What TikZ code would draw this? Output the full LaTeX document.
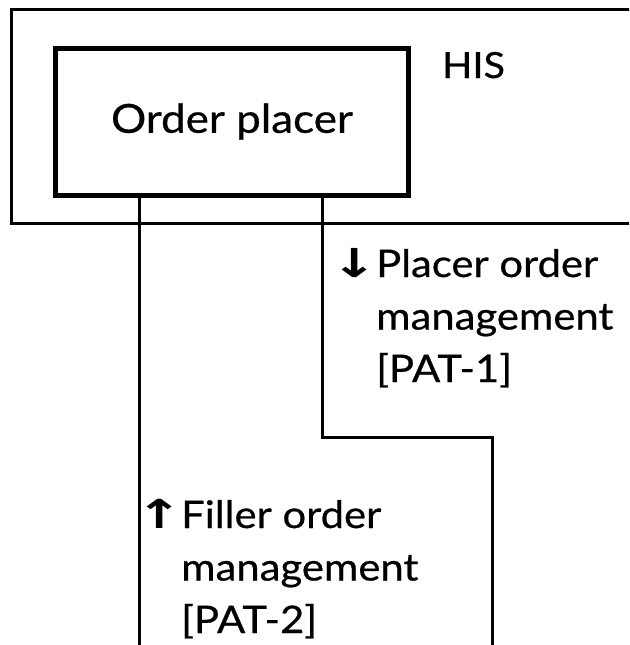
\documentclass[tikz,border=0pt]{standalone}
\usepackage{graphicx}
\usepackage{fontspec}
\setmainfont{Lato}[FakeStretch=1.1,FakeBold=0.6]
\newfontfamily\arrowfont{DejaVu Sans}
% direction arrow hung to the left of a message label
\newcommand\msgarrow[1]{\llap{{\arrowfont\bfseries\scalebox{1.45}[1.05]{#1}}\hspace{-1pt}}}
\tikzset{
  sysbox/.style={draw, line width=3pt, minimum width=649pt, minimum height=214pt, inner sep=0pt},
  appbox/.style={draw, line width=5pt, minimum width=353pt, minimum height=147pt, inner sep=0pt,
    font=\fontsize{40}{48}\selectfont},
  link/.style={line width=3pt},
  syslabel/.style={font=\fontsize{36}{42}\selectfont, inner sep=0pt, anchor=base west},
  msglabel/.style={font=\fontsize{38}{52.5}\selectfont, align=left, inner sep=0pt, anchor=base west},
}
\begin{document}
\begin{tikzpicture}[x=1pt,y=-1pt]
  \useasboundingbox (0,0) rectangle (629,645);
  \clip (0,0) rectangle (629,645);
  \fill[white] (0,0) rectangle (629,645);

  % hospital information system and its order placer
  \node[sysbox] (his) at (335.5,116) {};
  \node[syslabel] (histext) at (442,78) {HIS};
  \node[appbox] (placer) at (232,121.5) {Order placer};

  % message paths leaving the order placer
  \coordinate (fillerend) at (139,645);
  \coordinate (bendA) at (322,437);
  \coordinate (bendB) at (492,437);
  \coordinate (placerend) at (492,645);
  \draw[link] (placer.south -| fillerend) -- (fillerend);
  \draw[link] (placer.south -| bendA) -- (bendA) -- (bendB) -- (placerend);

  % message labels (the base anchor sits on the last line)
  \node[msglabel] (placermsg) at (376,382)
    {\msgarrow{↓}Placer order\\management\\{[PAT-1]}};
  \node[msglabel] (fillermsg) at (181,633)
    {\msgarrow{↑}Filler order\\management\\{[PAT-2]}};
\end{tikzpicture}
\end{document}
